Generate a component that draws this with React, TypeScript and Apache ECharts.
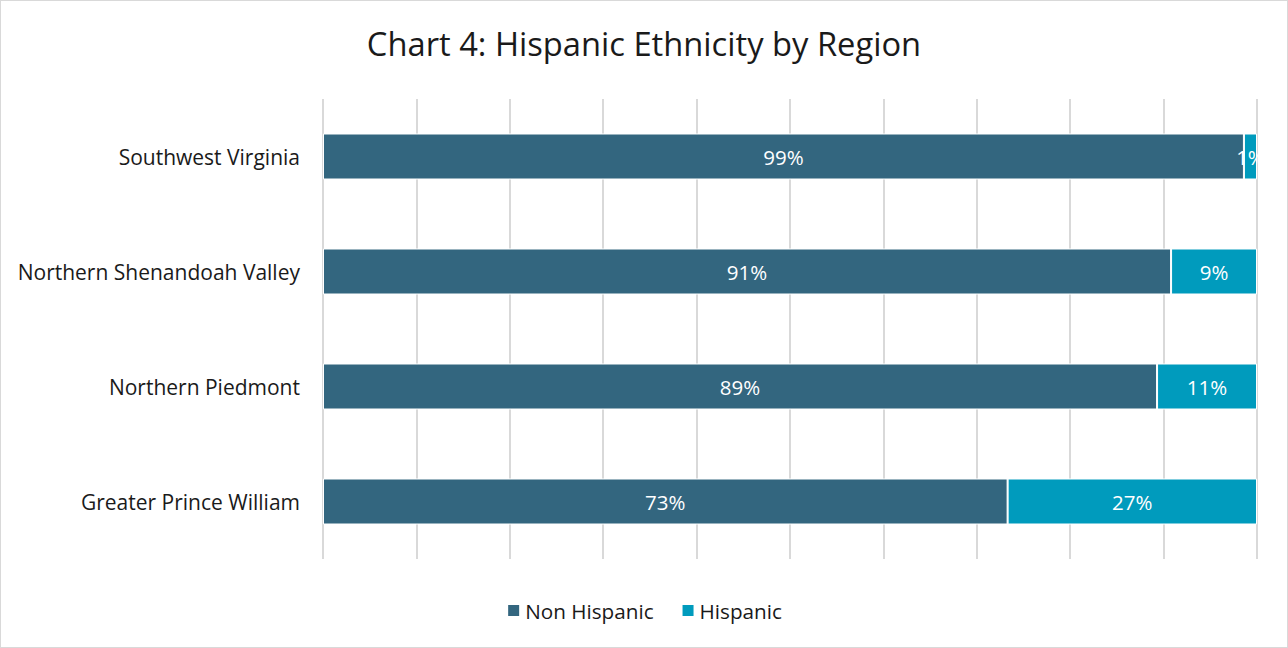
import React, { useEffect, useRef } from "react";
import * as echarts from "echarts";

const categories = ["Southwest Virginia", "Northern Shenandoah Valley", "Northern Piedmont", "Greater Prince William"];
const nonHispanic = [98.6, 90.8, 89.3, 73.3];
const hispanic = [1.4, 9.2, 10.7, 26.7];
const seriesNames = ["Non Hispanic", "Hispanic"];

const FONT = "'Open Sans', sans-serif";

export default function App() {
  const ref = useRef<HTMLDivElement>(null);
  useEffect(() => {
    document.body.style.margin = "0";
    const chart = echarts.init(ref.current!, null, { renderer: "svg" });
    const label = {
      show: true,
      position: "inside" as const,
      color: "#ffffff",
      fontSize: 20.5,
      fontFamily: FONT,
      formatter: (p: any) => Math.round(p.value) + "%",
    };
    chart.setOption({
      animation: false,
      backgroundColor: "#ffffff",
      title: {
        text: "Chart 4: Hispanic Ethnicity by Region",
        left: "center",
        top: 21,
        textStyle: { fontSize: 32.7, fontWeight: "normal", color: "#1a1a1a", fontFamily: FONT },
      },
      legend: {
        bottom: 21,
        left: "center",
        itemWidth: 13,
        itemHeight: 13,
        itemGap: 27,
        icon: "rect",
        textStyle: { fontSize: 20.7, color: "#1a1a1a", fontFamily: FONT },
        data: seriesNames,
      },
      grid: { left: 322, right: 30, top: 98, bottom: 88, containLabel: false },
      xAxis: {
        type: "value",
        min: 0,
        max: 100,
        interval: 10,
        axisLabel: { show: false },
        axisLine: { show: false },
        axisTick: { show: false },
        splitLine: { show: true, lineStyle: { color: "#d9d9d9", width: 2 } },
      },
      yAxis: {
        type: "category",
        data: categories,
        inverse: true,
        axisLine: { show: false },
        axisTick: { show: false },
        axisLabel: { fontSize: 21, color: "#1a1a1a", fontFamily: FONT, margin: 23 },
      },
      series: [
        {
          name: seriesNames[0],
          type: "bar",
          stack: "total",
          data: nonHispanic,
          barWidth: 46,
          itemStyle: { color: "#33667f", borderColor: "#ffffff", borderWidth: 1 },
          label,
        },
        {
          name: seriesNames[1],
          type: "bar",
          stack: "total",
          data: hispanic,
          barWidth: 46,
          itemStyle: { color: "#009bbd", borderColor: "#ffffff", borderWidth: 1 },
          label,
        },
      ],
    });
    return () => chart.dispose();
  }, []);
  return (
    <div
      ref={ref}
      style={{ width: 1288, height: 648, boxSizing: "border-box", border: "1px solid #d9d9d9" }}
    />
  );
}
